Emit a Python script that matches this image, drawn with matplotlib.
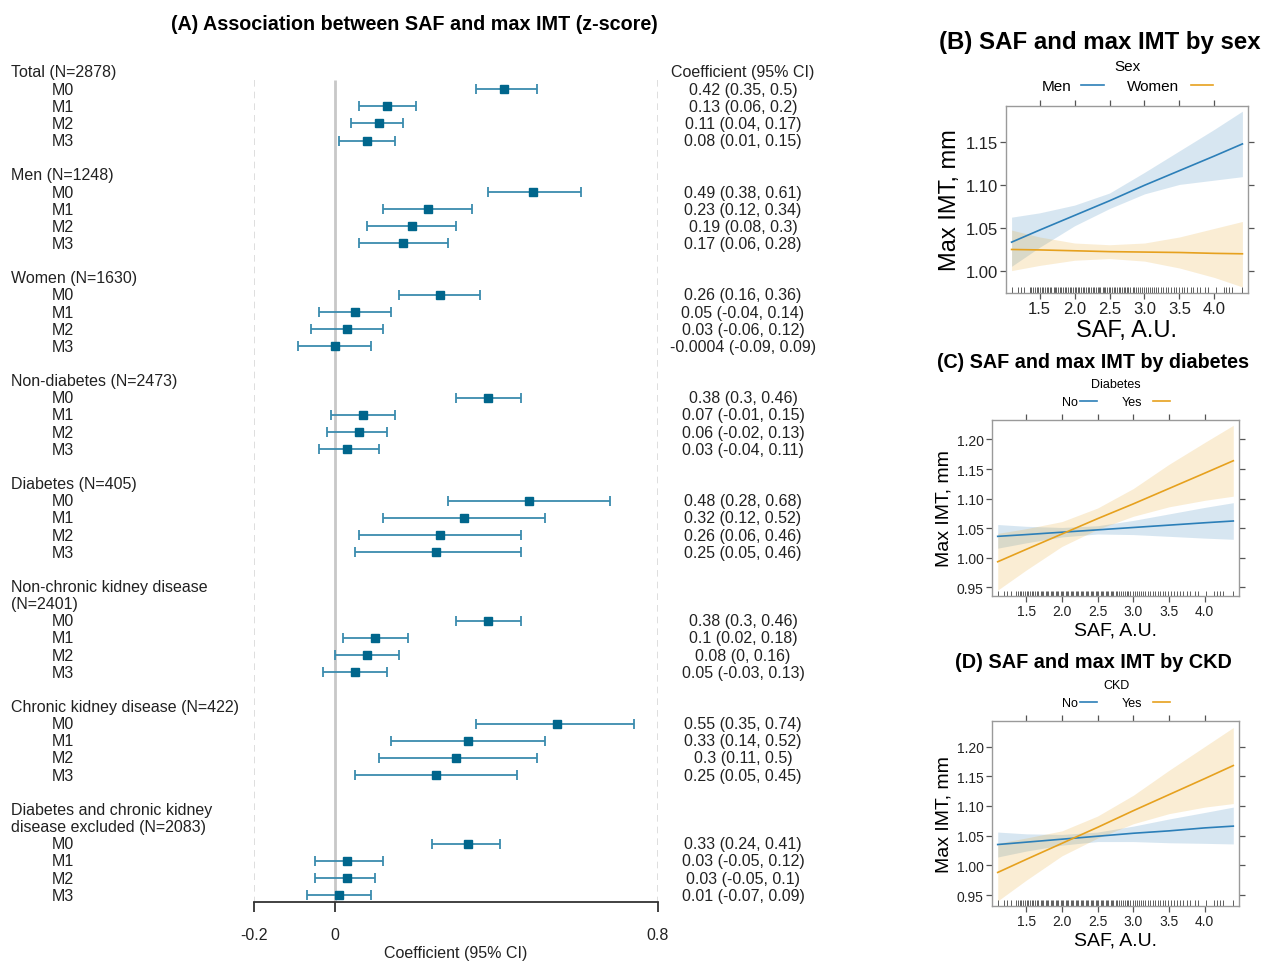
import matplotlib
matplotlib.use("Agg")
import matplotlib.pyplot as plt
from matplotlib.lines import Line2D
import numpy as np

plt.rcParams['font.family'] = ['Liberation Sans', 'DejaVu Sans']

W, H = 1263, 962

# ---- panel A data ----
groups = [['Total (N=2878)'],
          ['Men (N=1248)'],
          ['Women (N=1630)'],
          ['Non-diabetes (N=2473)'],
          ['Diabetes (N=405)'],
          ['Non-chronic kidney disease', '(N=2401)'],
          ['Chronic kidney disease (N=422)'],
          ['Diabetes and chronic kidney', 'disease excluded (N=2083)']]
models = ['M0', 'M1', 'M2', 'M3']
coef = [[0.42, 0.13, 0.11, 0.08],
        [0.49, 0.23, 0.19, 0.17],
        [0.26, 0.05, 0.03, -0.0004],
        [0.38, 0.07, 0.06, 0.03],
        [0.48, 0.32, 0.26, 0.25],
        [0.38, 0.1, 0.08, 0.05],
        [0.55, 0.33, 0.3, 0.25],
        [0.33, 0.03, 0.03, 0.01]]
ci_low = [[0.35, 0.06, 0.04, 0.01],
          [0.38, 0.12, 0.08, 0.06],
          [0.16, -0.04, -0.06, -0.09],
          [0.3, -0.01, -0.02, -0.04],
          [0.28, 0.12, 0.06, 0.05],
          [0.3, 0.02, 0, -0.03],
          [0.35, 0.14, 0.11, 0.05],
          [0.24, -0.05, -0.05, -0.07]]
ci_high = [[0.5, 0.2, 0.17, 0.15],
           [0.61, 0.34, 0.3, 0.28],
           [0.36, 0.14, 0.12, 0.09],
           [0.46, 0.15, 0.13, 0.11],
           [0.68, 0.52, 0.46, 0.46],
           [0.46, 0.18, 0.16, 0.13],
           [0.74, 0.52, 0.5, 0.45],
           [0.41, 0.12, 0.1, 0.09]]
x_ticks_a = [-0.2, 0, 0.8]

# ---- panels B-D data (effect plots) ----
saf_pts = [1.1, 1.5, 2.0, 2.5, 3.0, 3.5, 4.0, 4.4]

sex_names = ['Men', 'Women']
sex_fit = [[1.034, 1.048, 1.065, 1.082, 1.100, 1.117, 1.134, 1.148],
           [1.0255, 1.025, 1.024, 1.023, 1.0225, 1.022, 1.021, 1.0205]]
sex_lo = [[1.006, 1.028, 1.053, 1.073, 1.090, 1.101, 1.106, 1.110],
          [1.001, 1.007, 1.013, 1.015, 1.012, 1.004, 0.993, 0.982]]
sex_hi = [[1.063, 1.068, 1.077, 1.091, 1.115, 1.140, 1.165, 1.186],
          [1.048, 1.040, 1.033, 1.031, 1.033, 1.040, 1.050, 1.058]]

dm_names = ['No', 'Yes']
dm_fit = [[1.036, 1.039, 1.043, 1.047, 1.051, 1.055, 1.059, 1.062],
          [0.993, 1.014, 1.040, 1.066, 1.091, 1.117, 1.143, 1.164]]
dm_lo = [[1.016, 1.025, 1.035, 1.040, 1.039, 1.036, 1.033, 1.031],
         [0.945, 0.979, 1.019, 1.048, 1.070, 1.086, 1.097, 1.104]]
dm_hi = [[1.056, 1.053, 1.051, 1.054, 1.063, 1.074, 1.085, 1.093],
         [1.041, 1.049, 1.061, 1.084, 1.117, 1.158, 1.195, 1.224]]

ckd_names = ['No', 'Yes']
ckd_fit = [[1.035, 1.039, 1.044, 1.049, 1.054, 1.058, 1.063, 1.066],
           [0.988, 1.010, 1.037, 1.064, 1.092, 1.119, 1.146, 1.168]]
ckd_lo = [[1.014, 1.024, 1.034, 1.040, 1.040, 1.038, 1.037, 1.036],
          [0.940, 0.975, 1.016, 1.046, 1.070, 1.087, 1.098, 1.104]]
ckd_hi = [[1.056, 1.053, 1.052, 1.056, 1.066, 1.078, 1.089, 1.098],
          [1.037, 1.046, 1.058, 1.083, 1.118, 1.160, 1.200, 1.232]]

rug_saf = [1.10, 1.19, 1.23, 1.28, 1.36, 1.38, 1.41, 1.43, 1.46, 1.48, 1.51, 1.53,
           1.55, 1.58, 1.60, 1.62, 1.65, 1.67, 1.70, 1.72, 1.74, 1.77, 1.79, 1.81,
           1.84, 1.86, 1.88, 1.91, 1.93, 1.95, 1.98, 2.00, 2.02, 2.05, 2.07, 2.09,
           2.12, 2.14, 2.16, 2.19, 2.21, 2.23, 2.26, 2.28, 2.30, 2.33, 2.35, 2.37,
           2.40, 2.42, 2.44, 2.47, 2.49, 2.51, 2.54, 2.56, 2.58, 2.61, 2.63, 2.65,
           2.68, 2.70, 2.72, 2.75, 2.77, 2.80, 2.83, 2.85, 2.88, 2.91, 2.93, 2.96,
           2.99, 3.02, 3.05, 3.08, 3.11, 3.14, 3.17, 3.20, 3.24, 3.27, 3.31, 3.34,
           3.38, 3.42, 3.45, 3.49, 3.53, 3.57, 3.61, 3.66, 3.70, 3.75, 3.80, 3.86,
           3.91, 4.02, 4.13, 4.17, 4.21, 4.25, 4.40]
saf_ticks = [1.5, 2.0, 2.5, 3.0, 3.5, 4.0]

BLUE = '#2C7FB8'
ORANGE = '#E6A11E'

fig = plt.figure(figsize=(W / 100, H / 100), dpi=100)


def px_axes(x0, y0, x1, y1):
    return fig.add_axes([x0 / W, 1 - y1 / H, (x1 - x0) / W, (y1 - y0) / H])


def fx(x):
    return x / W


def fy(y):
    return 1 - y / H


# ================= panel A: forest plot =================
row0, step = 73.0, 17.15
ax = px_axes(254, row0 - step, 658, 903)
ax.set_xlim(-0.2, 0.8)
ybot = (903 - row0) / step
ax.set_ylim(ybot, -1)

trans = ax.get_yaxis_transform()
lab_x = (11 - 254) / 404
mod_x = (52 - 254) / 404
ci_x = (743 - 254) / 404

ax.vlines(0, 0.45, ybot, color='#c8c8c8', lw=2.0, zorder=1)
ax.vlines([-0.2, 0.8], 0.45, ybot, color='#d8d8d8', lw=1.2,
          linestyles=(0, (4, 3)), zorder=1)

ax.text(ci_x, 0, 'Coefficient (95% CI)', transform=trans, ha='center',
        va='center', fontsize=11.5, color='#222222')

row = 0
for g, head in enumerate(groups):
    for line in head:
        ax.text(lab_x, row, line, transform=trans, ha='left', va='center',
                fontsize=11.5, color='#222222')
        row += 1
    rows = np.arange(row, row + 4)
    c = np.array(coef[g])
    lo = np.array(ci_low[g])
    hi = np.array(ci_high[g])
    ax.errorbar(c, rows, xerr=[c - lo, hi - c], fmt='none', ecolor='#3A8BAE',
                elinewidth=1.3, capsize=3.5, capthick=1.3, zorder=2)
    ax.plot(c, rows, 's', color='#00668C', ms=5.5, zorder=3)
    for k, m in enumerate(models):
        ax.text(mod_x, rows[k], m, transform=trans, ha='left', va='center',
                fontsize=11.5, color='#222222')
        ax.text(ci_x, rows[k], f'{c[k]:g} ({lo[k]:g}, {hi[k]:g})',
                transform=trans, ha='center', va='center', fontsize=11.5,
                color='#222222')
    row += 5

for s in ['top', 'right', 'left']:
    ax.spines[s].set_visible(False)
ax.spines['bottom'].set_color('#333333')
ax.spines['bottom'].set_linewidth(1.3)
ax.set_yticks([])
ax.set_xticks(x_ticks_a)
ax.set_xticklabels(['-0.2', '0', '0.8'])
ax.tick_params(axis='x', length=7, width=1.3, color='#333333', pad=11,
               labelsize=11.5, labelcolor='#222222')
ax.set_xlabel('Coefficient (95% CI)', fontsize=11.5, color='#222222', labelpad=2)

fig.text(fx(414), fy(24), '(A) Association between SAF and max IMT (z-score)',
         ha='center', va='center', fontsize=14.2, fontweight='bold')


# ================= panels B-D: effect plots =================
def effect_panel(box, xlim, ylim, yticks, fit, lo, hi, tick_fs, lab_fs):
    a = px_axes(*box)
    for k, col in enumerate([BLUE, ORANGE]):
        a.fill_between(saf_pts, lo[k], hi[k], color=col, alpha=0.19, lw=0)
    for k, col in enumerate([BLUE, ORANGE]):
        a.plot(saf_pts, fit[k], color=col, lw=1.2)
    a.vlines(rug_saf, 0, 0.03, transform=a.get_xaxis_transform(),
             color='#444444', lw=0.6)
    a.set_xlim(*xlim)
    a.set_ylim(*ylim)
    a.set_xticks(saf_ticks)
    a.set_xticklabels([f'{t:.1f}' for t in saf_ticks])
    a.set_yticks(yticks)
    a.set_yticklabels([f'{t:.2f}' for t in yticks])
    a.tick_params(direction='out', length=4, width=0.9, color='#555555', pad=2,
                  top=True, right=True, labelsize=tick_fs, labelcolor='#222222')
    for s in a.spines.values():
        s.set_color('#9a9a9a')
        s.set_linewidth(1.0)
    a.set_xlabel('SAF, A.U.', fontsize=lab_fs, labelpad=2)
    a.set_ylabel('Max IMT, mm', fontsize=lab_fs, labelpad=3)
    return a


def legend_row(title, names, ytitle, yrow, xs_text, xs_line, fs):
    fig.text(fx((xs_text[0] + xs_line[1][1]) / 2), fy(ytitle), title,
             ha='center', va='center', fontsize=fs)
    for k, (nm, col) in enumerate(zip(names, [BLUE, ORANGE])):
        fig.text(fx(xs_text[k]), fy(yrow), nm, ha='left', va='center', fontsize=fs)
        fig.add_artist(Line2D([fx(xs_line[k][0]), fx(xs_line[k][1])],
                              [fy(yrow - 1), fy(yrow - 1)], color=col, lw=1.2))


# B
effect_panel((1006, 107, 1248, 294), (1.02, 4.48), (0.975, 1.192),
             [1.00, 1.05, 1.10, 1.15], sex_fit, sex_lo, sex_hi, 12, 17)
fig.text(fx(1099.5), fy(42), '(B) SAF and max IMT by sex', ha='center',
         va='center', fontsize=17.3, fontweight='bold')
legend_row('Sex', sex_names, 67, 87, [1042, 1127],
           [(1081, 1104), (1191, 1213)], 11)

# C
effect_panel((992, 421, 1239, 597), (1.02, 4.48), (0.935, 1.233),
             [0.95, 1.00, 1.05, 1.10, 1.15, 1.20], dm_fit, dm_lo, dm_hi, 10, 14)
fig.text(fx(1093), fy(363), '(C) SAF and max IMT by diabetes', ha='center',
         va='center', fontsize=14.2, fontweight='bold')
legend_row('Diabetes', dm_names, 385, 403, [1062, 1122],
           [(1080, 1097), (1153, 1170)], 9)

# D
effect_panel((992, 722, 1239, 907), (1.02, 4.48), (0.9315, 1.243),
             [0.95, 1.00, 1.05, 1.10, 1.15, 1.20], ckd_fit, ckd_lo, ckd_hi, 10, 14)
fig.text(fx(1093.5), fy(663), '(D) SAF and max IMT by CKD', ha='center',
         va='center', fontsize=14.3, fontweight='bold')
legend_row('CKD', ckd_names, 686, 704, [1062, 1122],
           [(1080, 1097), (1153, 1170)], 9)

fig.savefig('out.png', dpi=100)
